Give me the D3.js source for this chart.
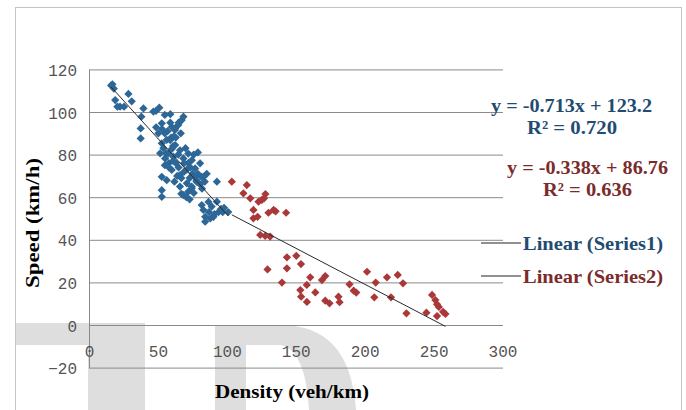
<!DOCTYPE html>
<html><head><meta charset="utf-8">
<script src="https://cdn.jsdelivr.net/npm/d3@7"></script>
<style>html,body{margin:0;padding:0;background:#fff;}svg{display:block;}</style>
</head><body>
<script>
// ---- data ----
const series1 = [ // Density (veh/km), Speed (km/h)
[16,112.5],[18,111],[17,113],[19,105.6],[20.6,102.5],[22.5,102.5],[25.4,102.5],[28.6,108.5],[31,105],
[39.5,101.7],[38,97.8],[37.5,92.3],[37.5,87.6],[46.7,100.2],[51,102],[48.6,100.5],[55,98.6],[59,99],[59,95],
[52.8,94.7],[48.7,92.8],[50.3,90],[55,90],[56.4,86.9],[59.6,88],[62.5,92.3],[65,95],[52.8,85.3],[51.6,80.6],
[56,80.6],[60,82.6],[62.5,84.5],[67.3,96.2],[64.8,93.9],[62.3,91.5],[61.4,88.4],[66.6,90],[68.5,97.8],[58.9,86.8],
[55.2,78.2],[57.5,80.5],[61.2,79],[64.8,80],[68.5,78.2],[72,80.5],[74.6,77.4],[80.6,75.9],[77,73.5],[73.6,74],
[60,72.8],[52.8,69.6],[56.4,68],[62,67.3],[67,69],[71,66.5],[74.6,64.2],[78,67.3],[81.6,69.6],[84,67.3],[85.4,71],
[67,61.6],[70.6,60],[73,59],[52.8,63.3],[52.8,60.2],[81.8,56.3],[83,54],[84.3,50.8],[84.3,48.5],[86.7,57.8],
[78,68],[83,69.6],[92.8,67.3],[80.6,66],[66,70.4],[66,65],[68.5,61],[72,62.6],[74.5,65],[77,69.6],[90.3,50.8],
[89,55.6],[92.8,57.9],[94,53],[95.8,54.5],[101,53],[98,55],[58,76],[63,76],[66,82],[70,83],[72,76],[76,80],
[79,81],[69,72],[64,70],[58,74],[55,75],[54,83],[61,84],[63,88],[57,91],[53,92],[60,93],[71,73],[75,71],[79,71],
[88,50],[87,53],[91,52],[97,53],[61,77],[65,74],[69,76],[73,69],[82,64],[76,62]
];
const series2 = [
[103.6,67.3],[114.5,65.7],[112,61.8],[117,59.5],[123,57.9],[125.4,58.7],[127,59.5],[128,61.5],[119.3,54],
[119.3,50.1],[122.3,50.8],[130.2,52.7],[133.9,54],[135.4,53.4],[143,52.7],[124.2,42.3],[127.8,41.8],[131.4,41.5],
[129.5,26.1],[143.6,31.8],[150.4,32.5],[143.6,26.6],[153.8,28.6],[140,19.9],[160.5,22.4],[158,18.8],[153.3,16.4],
[153.9,13.3],[158.1,10.8],[164.2,15.3],[169,21.1],[171.4,23],[171.4,11.4],[174.5,10.2],[181,13.3],[181.8,10.7],
[189,19.1],[192,16.1],[193.9,15.2],[201.7,25],[208,19.9],[207,13],[216.2,22.4],[224,23.5],[227.8,19.6],[219.1,13],
[230.3,5.5],[244.8,5.8],[248.9,14.1],[251.3,11.7],[252.5,9.7],[253.8,8.5],[256.9,6.2],[258.6,5.2],[252.5,4.2]
];
const trend1 = {slope:-0.713, intercept:123.2, eq:"y = -0.713x + 123.2", r2:"R² = 0.720"};
const trend2 = {slope:-0.338, intercept:86.76, eq:"y = -0.338x + 86.76", r2:"R² = 0.636"};
const xTicks = [0,50,100,150,200,250,300];
const yTicks = [-20,0,20,40,60,80,100,120];
const legendLabels = ["Linear (Series1)","Linear (Series2)"];
const xTitle = "Density  (veh/km)";
const yTitle = "Speed  (km/h)";

// ---- drawing ----
const W = 686, H = 410;
const svg = d3.select("body").append("svg").attr("width", W).attr("height", H);
const x = d3.scaleLinear().domain([0,300]).range([89,502.5]);
const y = d3.scaleLinear().domain([-20,120]).range([367.6,69.4]);
const serif = "'Liberation Serif','Times New Roman',serif";
const blueMark = "#2D6797", redMark = "#AA3838";
const blueText = "#234B72", redText = "#7B2B2B";

// watermark (faint)
const wm = svg.append("g").attr("fill","#dedede");
wm.append("rect").attr("x",15).attr("y",323).attr("width",130).attr("height",22);
wm.append("rect").attr("x",88).attr("y",345).attr("width",57).attr("height",65);
wm.append("path").attr("fill-rule","evenodd")
  .attr("d","M215,325 L280,325 C325,325 352,350 356,410 L215,410 Z M246,345 L280,345 C298,348 307,372 309,410 L246,410 Z");

// outer frame
svg.append("rect").attr("x",15.5).attr("y",7.5).attr("width",666).attr("height",410)
  .attr("fill","none").attr("stroke","#c4c4c4");

// y axis with gridlines
const yAxis = svg.append("g").attr("transform","translate(89,0)")
  .call(d3.axisLeft(y).tickValues(yTicks).tickSize(-(503-89)).tickSizeOuter(0).tickPadding(12));
yAxis.select(".domain").attr("stroke","#888");
yAxis.selectAll(".tick line").attr("stroke","#8a8a8a");
yAxis.selectAll(".tick text").attr("font-family","'Liberation Mono',monospace")
  .attr("font-size",16).attr("fill","#555").attr("dy","0.38em");

// x axis labels
const xAxis = svg.append("g").attr("transform",`translate(0,${y(0)})`)
  .call(d3.axisBottom(x).tickValues(xTicks).tickSize(0).tickPadding(21));
xAxis.select(".domain").remove();
xAxis.selectAll(".tick text").attr("font-family","'Liberation Mono',monospace")
  .attr("font-size",16).attr("fill","#555");

// trendlines
function drawTrend(data, t){
  const ext = d3.extent(data, d=>d[0]);
  svg.append("line")
    .attr("x1",x(ext[0])).attr("y1",y(t.slope*ext[0]+t.intercept))
    .attr("x2",x(ext[1])).attr("y2",y(t.slope*ext[1]+t.intercept))
    .attr("stroke","#2a2a2a").attr("stroke-width",1);
}

// markers
const diamond = d3.symbol().type(d3.symbolSquare).size(34);
function drawPoints(data, color){
  svg.append("g").selectAll("path").data(data).join("path")
    .attr("d", diamond)
    .attr("transform", d=>`translate(${x(d[0])},${y(d[1])}) rotate(45)`)
    .attr("fill", color);
}
drawPoints(series1, blueMark);
drawPoints(series2, redMark);
drawTrend(series1, trend1);
drawTrend(series2, trend2);

// text helper
function txt(s, xx, yy, len, size, color){
  svg.append("text").attr("x",xx).attr("y",yy).text(s)
    .attr("font-family",serif).attr("font-weight","bold").attr("font-size",size)
    .attr("fill",color).attr("textLength",len).attr("lengthAdjust","spacingAndGlyphs");
}
txt(trend1.eq, 491, 112, 161, 19, blueText);
txt(trend1.r2, 527, 134, 90, 19, blueText);
txt(trend2.eq, 507, 174, 161, 19, redText);
txt(trend2.r2, 543, 196, 89, 19, redText);

// legend
const legY = [243, 276];
const legCol = [blueText, redText];
legendLabels.forEach((l,i)=>{
  svg.append("line").attr("x1",481).attr("x2",521).attr("y1",legY[i]).attr("y2",legY[i])
    .attr("stroke","#222").attr("stroke-width",1);
  txt(l, 523, legY[i]+7, 140, 19, legCol[i]);
});

// axis titles
txt(xTitle, 215, 398, 154, 19, "#000");
svg.append("text").text(yTitle)
  .attr("transform","translate(39,223) rotate(-90)")
  .attr("text-anchor","middle")
  .attr("font-family",serif).attr("font-weight","bold").attr("font-size",19)
  .attr("textLength",130).attr("lengthAdjust","spacingAndGlyphs")
  .attr("fill","#000");
</script>
</body></html>
